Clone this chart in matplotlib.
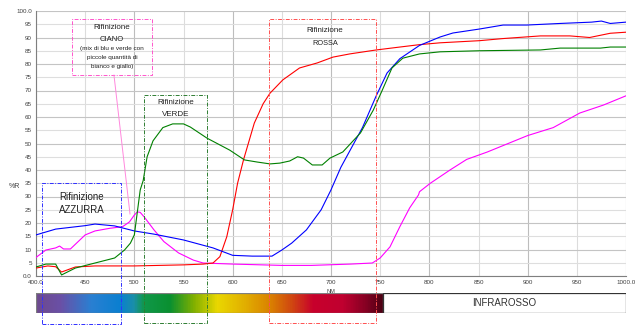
import numpy as np
import matplotlib.pyplot as plt
from matplotlib.colors import LinearSegmentedColormap
from matplotlib.patches import Rectangle

plt.rcParams['font.family'] = ['Liberation Sans', 'DejaVu Sans']

# Reflectance curves (%R vs wavelength nm)
blue_wl = [400, 420, 450, 460, 480, 500, 520, 550, 580, 600, 620, 640, 650, 660, 675, 690, 700, 710,
           732, 746, 757, 770, 790, 811, 824, 851, 875, 899, 933, 965, 975, 984, 1000]
blue_r = [15.5, 17.7, 19.0, 19.6, 18.9, 17.0, 15.8, 13.6, 10.6, 7.8, 7.5, 7.5, 9.8, 12.4, 17.4, 25.0, 32.5, 41.0,
          56.0, 68.0, 76.6, 82.0, 87.0, 90.2, 91.7, 93.2, 94.7, 94.7, 95.3, 95.8, 96.2, 95.3, 95.8]

red_wl = [400, 412, 420, 426, 440, 460, 500, 550, 570, 580, 587, 594, 600, 605, 611, 622, 631, 638, 651,
          668, 686, 702, 719, 746, 770, 790, 811, 851, 875, 913, 943, 963, 984, 1000]
red_r = [3.0, 3.8, 3.5, 1.5, 3.4, 3.8, 3.8, 4.2, 4.5, 4.9, 7.3, 14.8, 25.0, 35.0, 43.8, 57.7, 65.0, 69.0, 74.0,
         78.5, 80.4, 82.6, 83.8, 85.3, 86.4, 87.3, 88.0, 88.8, 89.6, 90.6, 90.6, 90.0, 91.6, 92.0]

green_wl = [400, 410, 420, 426, 440, 460, 480, 490, 496, 500, 506, 509, 513, 519, 529, 539, 550, 557, 574,
            597, 612, 625, 638, 648, 658, 666, 672, 681, 691, 699, 712, 730, 743, 752, 762, 773, 790, 811,
            851, 913, 933, 974, 984, 1000]
green_r = [3.4, 4.5, 4.5, 0.4, 3.0, 4.9, 6.8, 9.8, 12.4, 15.5, 32.5, 36.0, 45.0, 51.0, 56.0, 57.4, 57.4, 56.2, 52.0,
           47.5, 43.8, 43.0, 42.3, 42.6, 43.4, 45.0, 44.5, 41.9, 41.9, 44.5, 46.8, 54.0, 62.6, 70.0, 78.5, 82.2, 83.8, 84.6,
           85.0, 85.3, 86.0, 86.0, 86.4, 86.4]

magenta_wl = [400, 410, 420, 424, 428, 435, 450, 460, 475, 488, 495, 500, 503, 506, 510, 520, 530, 545, 560,
              570, 600, 650, 680, 720, 742, 750, 760, 770, 780, 789, 790, 801, 821, 838, 859, 900, 926, 953,
              977, 1000]
magenta_r = [7.0, 9.8, 10.6, 11.3, 10.2, 10.2, 15.5, 17.0, 18.0, 18.6, 20.4, 23.0, 24.2, 24.0, 22.3, 17.4, 13.0, 8.7, 6.0,
             4.9, 4.5, 4.0, 4.0, 4.5, 4.9, 6.8, 11.0, 18.6, 25.7, 30.6, 31.8, 35.0, 40.0, 44.0, 46.8, 53.0, 56.0, 61.5,
             64.5, 68.0]

# Visible spectrum strip
spec_wl = [400, 424, 455, 485, 499, 509, 536, 560, 584, 610, 638, 661, 682, 712, 737, 753]
spec_col = ['#6e4a8e', '#6a50a6', '#2a7fd2', '#0a80d0', '#1a8fa8', '#10984a', '#0a9030', '#80b000',
            '#ead800', '#e2b200', '#da8200', '#d04412', '#c8002c', '#c00030', '#820022', '#4a0012']

xticks = [400, 450, 500, 550, 600, 650, 700, 750, 800, 850, 900, 950, 1000]
xtick_labels = ['400.0', '450', '500', '550', '600', '650', '700', '750', '800', '850', '900', '950', '1000.0']
yticks = list(range(0, 101, 5))
ytick_labels = ['0.0'] + [str(v) for v in yticks[1:-1]] + ['100.0']

W, H = 644, 328
fig = plt.figure(figsize=(W / 100, H / 100), dpi=100, facecolor='white')
ax = fig.add_axes([36 / W, 52 / H, 590 / W, 265 / H])
ax.set_zorder(2)

ax.set_xlim(400, 1000)
ax.set_ylim(0, 100)
ax.set_xticks(xticks)
ax.set_xticklabels(xtick_labels)
ax.set_yticks(yticks)
ax.set_yticklabels(ytick_labels)
ax.tick_params(labelsize=4.5, length=0, pad=3, colors='#404040')
ax.set_xticks([], minor=True)

# grid: darker every 100 nm / 10 %, lighter in between
for x in xticks:
    ax.axvline(x, color='#bdbdbd' if x % 100 == 0 else '#dcdcdc', lw=0.8, zorder=0)
for y in yticks:
    ax.axhline(y, color='#c4c4c4' if y % 10 == 0 else '#dedede', lw=0.8, zorder=0)
for side in ['top', 'right']:
    ax.spines[side].set_visible(False)
ax.spines['left'].set_color('#7f7f7f')
ax.spines['bottom'].set_color('#7f7f7f')
ax.spines['left'].set_linewidth(0.8)
ax.spines['bottom'].set_linewidth(0.8)

ax.plot(magenta_wl, magenta_r, color='#ff00ff', lw=0.8, zorder=3)
ax.plot(red_wl, red_r, color='#ff0000', lw=0.8, zorder=3)
ax.plot(blue_wl, blue_r, color='#0000ff', lw=0.8, zorder=3)
ax.plot(green_wl, green_r, color='#008000', lw=0.8, zorder=3)

ax.text(14 / W, 142 / H, '%R', transform=fig.transFigure, fontsize=5, color='#404040',
        ha='center', va='center')
ax.text(700, -5.8, 'NM', fontsize=4, color='#404040', ha='center', va='center', clip_on=False)

# dashed annotation boxes
dash = (0, (4, 1.5, 1, 1.5))
boxes = [
    (406.1, -18.1, 486.4, 35.1, '#3030ff'),
    (436.6, 75.8, 518.0, 97.0, '#ff55cc'),
    (509.8, -17.7, 573.9, 68.3, '#2e7d32'),
    (637.0, -17.7, 745.8, 97.0, '#ff5050'),
]
for x0, y0, x1, y1, c in boxes:
    ax.add_patch(Rectangle((x0, y0), x1 - x0, y1 - y0, fill=False, ec=c, lw=0.7,
                           ls=dash, clip_on=False, zorder=4))
ax.plot([479.3, 495.6], [75.8, 23.4], color='#ff88dd', lw=0.7, zorder=4)

ax.text(446.8, 29.8, 'Rifinizione', fontsize=7, ha='center', va='center', color='#222222')
ax.text(446.8, 24.9, 'AZZURRA', fontsize=7, ha='center', va='center', color='#222222')
ax.text(542.4, 65.3, 'Rifinizione', fontsize=5.8, ha='center', va='center', color='#222222')
ax.text(542.4, 60.8, 'VERDE', fontsize=5.8, ha='center', va='center', color='#222222')
ax.text(693.9, 92.8, 'Rifinizione', fontsize=5.8, ha='center', va='center', color='#222222')
ax.text(693.9, 87.9, 'ROSSA', fontsize=5.3, ha='center', va='center', color='#222222')
ciano_lines = ['Rifinizione', 'CIANO', '(mix di blu e verde con', 'piccole quantità di', 'bianco e giallo)']
ciano_y = [93.6, 89.4, 85.7, 82.6, 79.2]
ciano_fs = [5.8, 5.5, 4.6, 4.6, 4.6]
for txt, y, fs in zip(ciano_lines, ciano_y, ciano_fs):
    ax.text(477.3, y, txt, fontsize=fs, ha='center', va='center', color='#222222')

# spectrum strip + infrared box
bx = fig.add_axes([36 / W, 15 / H, 590 / W, 20 / H])
bx.set_zorder(1)
bx.set_xlim(400, 1000)
bx.set_ylim(0, 1)
bx.axis('off')
pos = [(w - spec_wl[0]) / (spec_wl[-1] - spec_wl[0]) for w in spec_wl]
cmap = LinearSegmentedColormap.from_list('spec', list(zip(pos, spec_col)))
bx.imshow(np.linspace(0, 1, 400)[None, :], aspect='auto', cmap=cmap,
          extent=[spec_wl[0], spec_wl[-1], 0, 1])
bx.add_patch(Rectangle((spec_wl[0], 0), spec_wl[-1] - spec_wl[0], 1, fill=False, ec='#7f7f7f', lw=0.9))
bx.add_patch(Rectangle((spec_wl[-1], 0), 1000 - spec_wl[-1], 1, fc='white', ec='#333333', lw=0.9))
bx.text((spec_wl[-1] + 1000) / 2, 0.5, 'INFRAROSSO', fontsize=7, ha='center', va='center', color='#333333')
bx.set_xlim(400, 1000)
bx.set_ylim(0, 1)

fig.savefig('out.png', dpi=100, facecolor='white')
